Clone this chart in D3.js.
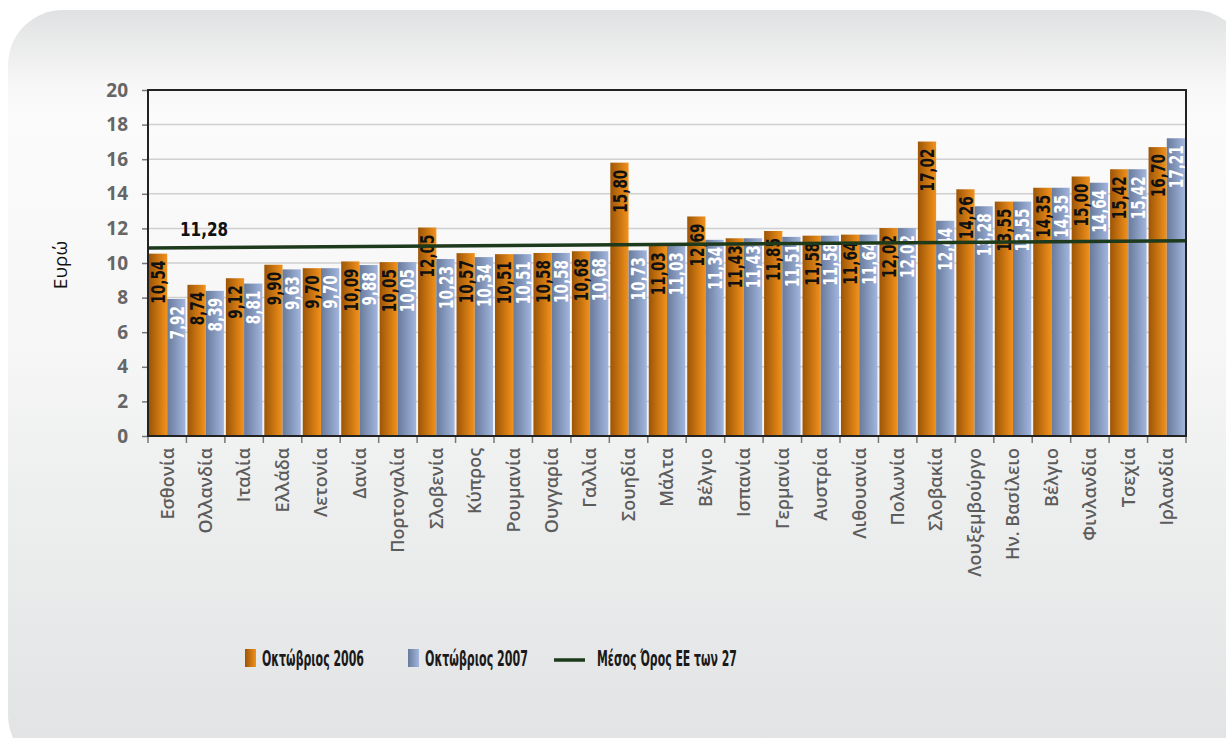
<!DOCTYPE html>
<html>
<head>
<meta charset="utf-8">
<script src="https://cdn.jsdelivr.net/npm/d3@7"></script>
<style>
  html, body { margin: 0; padding: 0; background: #fff; }
  svg { display: block; }
</style>
</head>
<body>
<svg id="chart"></svg>
<script>
const outerWidth = 1226;
const outerHeight = 738;
const margin = { top: 90, right: 40, bottom: 302, left: 148 };
const width = outerWidth - margin.left - margin.right;
const height = outerHeight - margin.top - margin.bottom;

// data
const countries = ["Εσθονία", "Ολλανδία", "Ιταλία", "Ελλάδα", "Λετονία", "Δανία", "Πορτογαλία",
    "Σλοβενία", "Κύπρος", "Ρουμανία", "Ουγγαρία", "Γαλλία", "Σουηδία", "Μάλτα", "Βέλγιο",
    "Ισπανία", "Γερμανία", "Αυστρία", "Λιθουανία", "Πολωνία", "Σλοβακία", "Λουξεμβούργο",
    "Ην. Βασίλειο", "Βέλγιο ", "Φινλανδία", "Τσεχία", "Ιρλανδία"];
const oct2006 = [10.54, 8.74, 9.12, 9.90, 9.70, 10.09, 10.05, 12.05, 10.57, 10.51, 10.58, 10.68, 15.80,
    11.03, 12.69, 11.43, 11.85, 11.58, 11.64, 12.02, 17.02, 14.26, 13.55, 14.35, 15.00, 15.42, 16.70];
const oct2007 = [7.92, 8.39, 8.81, 9.63, 9.70, 9.88, 10.05, 10.23, 10.34, 10.51, 10.58, 10.68, 10.73,
    11.03, 11.34, 11.43, 11.51, 11.58, 11.64, 12.02, 12.44, 13.28, 13.55, 14.35, 14.64, 15.42, 17.21];
const seriesNames = ["Οκτώβριος 2006", "Οκτώβριος 2007"];
const meanLabel = "Μέσος Όρος ΕΕ των 27";
const meanValue = "11,28";
// the drawn mean line runs slightly uphill from left edge to right edge
const meanEnds = [10.87, 11.28];
const yTickValues = [0, 2, 4, 6, 8, 10, 12, 14, 16, 18, 20];

const fmt = v => v.toFixed(2).replace(".", ",");
const labelFont = "'DejaVu Sans', sans-serif";
const squeeze = 0.68; // fake a condensed face

const root = d3.select("#chart")
    .attr("width", outerWidth)
    .attr("height", outerHeight);

const defs = root.append("defs");

const bg = defs.append("linearGradient").attr("id", "bg")
    .attr("x1", 0).attr("y1", 0).attr("x2", 0).attr("y2", 1);
[["0%", "#e0e1e2"], ["10%", "#f7f7f7"], ["14%", "#fbfbfb"], ["45%", "#f6f6f6"],
 ["62%", "#eeefef"], ["100%", "#e1e2e3"]].forEach(([o, c]) =>
    bg.append("stop").attr("offset", o).attr("stop-color", c));

function hGrad(id, c0, c1) {
    const g = defs.append("linearGradient").attr("id", id)
        .attr("x1", 0).attr("y1", 0).attr("x2", 1).attr("y2", 0);
    g.append("stop").attr("offset", "0%").attr("stop-color", c0);
    g.append("stop").attr("offset", "100%").attr("stop-color", c1);
}
hGrad("orange", "#9c5506", "#f3921c");
hGrad("blue", "#687b9b", "#a2b5de");
const fills = ["url(#orange)", "url(#blue)"];
const textColors = ["#111", "#fff"];

root.append("rect")
    .attr("x", 8).attr("y", 10)
    .attr("width", 1240).attr("height", 760)
    .attr("rx", 55).attr("ry", 55)
    .attr("fill", "url(#bg)");

const svg = root.append("g")
    .attr("transform", `translate(${margin.left},${margin.top})`);

const x = d3.scaleBand().domain(countries).range([0, width]).padding(0);
const xSub = d3.scaleBand().domain([0, 1]).range([1, x.bandwidth() - 1]).padding(0);
const y = d3.scaleLinear().domain([0, 20]).range([height, 0]);

// grid
svg.append("g")
    .selectAll("line")
    .data(yTickValues.slice(1, -1))
    .join("line")
    .attr("x1", 0).attr("x2", width)
    .attr("y1", d => y(d)).attr("y2", d => y(d))
    .attr("stroke", "#cfcfcf")
    .attr("stroke-width", 1.5);

const rows = countries.map((c, i) => ({ country: c, values: [oct2006[i], oct2007[i]] }));

const groups = svg.append("g")
    .selectAll("g")
    .data(rows)
    .join("g")
    .attr("transform", d => `translate(${x(d.country)},0)`);

groups.selectAll("rect")
    .data(d => d.values.map((v, k) => ({ v, k })))
    .join("rect")
    .attr("x", d => xSub(d.k))
    .attr("width", xSub.bandwidth())
    .attr("y", d => y(d.v))
    .attr("height", d => height - y(d.v))
    .attr("fill", d => fills[d.k]);

groups.selectAll("text")
    .data(d => d.values.map((v, k) => ({ v, k })))
    .join("text")
    .attr("transform", d => `translate(${xSub(d.k) + xSub.bandwidth() / 2},${y(d.v) + 7}) rotate(-90) scale(${squeeze},1)`)
    .attr("text-anchor", "end")
    .attr("dy", "0.36em")
    .style("font-family", labelFont)
    .style("font-weight", "bold")
    .style("font-size", "20px")
    .attr("fill", d => textColors[d.k])
    .text(d => fmt(d.v));

// mean line
const meanX = d3.scaleLinear().domain([0, 1]).range([0, width]);
svg.append("path")
    .datum(meanEnds)
    .attr("fill", "none")
    .attr("stroke", "#1d3a1c")
    .attr("stroke-width", 3.5)
    .attr("d", d3.line().x((d, i) => meanX(i)).y(d => y(d)));

svg.append("text")
    .attr("transform", `translate(32,${y(meanEnds[0]) - 12}) scale(0.8,1)`)
    .style("font-family", labelFont)
    .style("font-weight", "bold")
    .style("font-size", "19px")
    .attr("fill", "#111")
    .text(meanValue);

// axes
const yAxis = svg.append("g")
    .call(d3.axisLeft(y).tickValues(yTickValues).tickSize(6).tickPadding(14));
yAxis.select(".domain").remove();
yAxis.selectAll(".tick line").attr("stroke", "#777").attr("stroke-width", 1.5);
yAxis.selectAll(".tick text")
    .style("font-family", "'Open Sans', sans-serif")
    .style("font-weight", "bold")
    .style("font-size", "19px")
    .attr("fill", "#666");

const boundaries = countries.map(c => x(c)).concat([width]);
svg.append("g")
    .selectAll("line")
    .data(boundaries)
    .join("line")
    .attr("x1", d => d).attr("x2", d => d)
    .attr("y1", height).attr("y2", height + 7)
    .attr("stroke", "#777")
    .attr("stroke-width", 1.5);

// plot frame
svg.append("rect")
    .attr("x", 0).attr("y", 0)
    .attr("width", width).attr("height", height)
    .attr("fill", "none")
    .attr("stroke", "#222")
    .attr("stroke-width", 2);

svg.append("g")
    .selectAll("text")
    .data(countries)
    .join("text")
    .attr("transform", d => `translate(${x(d) + x.bandwidth() / 2},${height + 12}) rotate(-90)`)
    .attr("text-anchor", "end")
    .attr("dy", "0.35em")
    .style("font-family", "'Open Sans', sans-serif")
    .style("font-weight", 600)
    .style("font-size", "18px")
    .attr("fill", "#5c5c5c")
    .text(d => d.trim());

root.append("text")
    .attr("transform", `translate(60,265) rotate(-90)`)
    .attr("text-anchor", "middle")
    .attr("dy", "0.35em")
    .style("font-family", "'Open Sans', sans-serif")
    .style("font-size", "19px")
    .attr("fill", "#111")
    .text("Ευρώ");

// legend, text squeezed to the widths seen in the picture
const legend = root.append("g").attr("transform", "translate(0,659)");
const legendFont = "'DejaVu Sans', sans-serif";

function legendText(lx, label, targetWidth) {
    const t = legend.append("text")
        .attr("dy", "0.35em")
        .style("font-family", legendFont)
        .style("font-weight", "bold")
        .style("font-size", "21px")
        .attr("fill", "#1a1a1a")
        .text(label);
    const w = t.node().getComputedTextLength();
    t.attr("transform", `translate(${lx},0) scale(${targetWidth / w},1)`);
}

[[245, 0, 102], [408, 1, 103]].forEach(([lx, k, len]) => {
    legend.append("rect")
        .attr("x", lx).attr("y", -10)
        .attr("width", 11).attr("height", 18)
        .attr("fill", fills[k]);
    legendText(lx + 17, seriesNames[k], len);
});
legend.append("line")
    .attr("x1", 554).attr("x2", 585)
    .attr("y1", 1).attr("y2", 1)
    .attr("stroke", "#1d3a1c")
    .attr("stroke-width", 3.5);
legendText(597, meanLabel, 140);
</script>
</body>
</html>
